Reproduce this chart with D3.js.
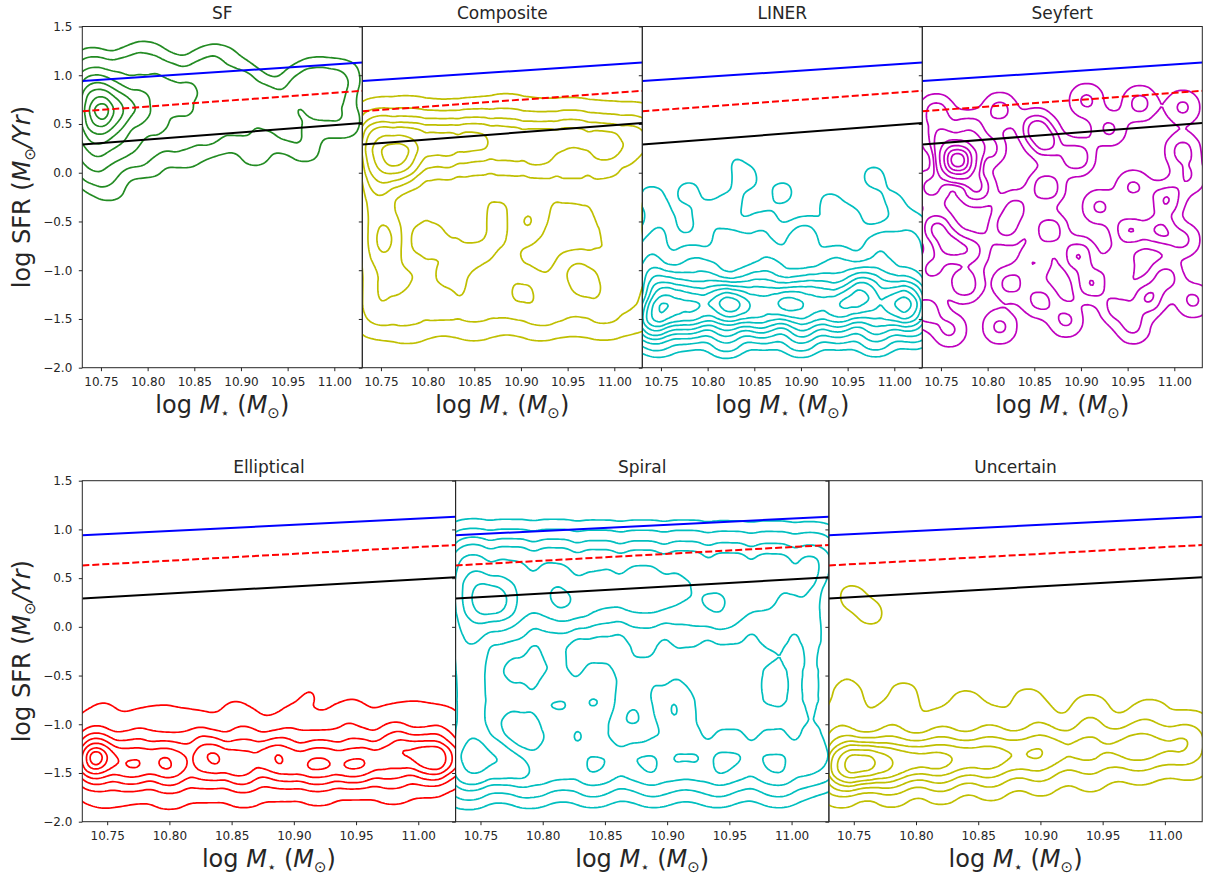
<!DOCTYPE html>
<html>
<head>
<meta charset="utf-8">
<script src="https://cdn.jsdelivr.net/npm/d3@7"></script>
<style>
  body { margin: 0; background: #fff; }
  svg text { font-family: 'DejaVu Sans', sans-serif; fill: #262626; }
</style>
</head>
<body>
<div id="chart"></div>
<script>
// axes
const massDomain = [10.73, 11.03];
const sfrDomain = [-2.0, 1.5];
const massTicks = [10.75, 10.8, 10.85, 10.9, 10.95, 11.0];
const sfrTicks = [-2.0, -1.5, -1.0, -0.5, 0.0, 0.5, 1.0, 1.5];

// reference relations (values at both mass ends)
const lineMass = [10.73, 11.03];
const blueLine = [0.94, 1.13];
const redLine = [0.63, 0.84];
const blackLine = [0.29, 0.51];

const panelNames = ['SF', 'Composite', 'LINER', 'Seyfert', 'Elliptical', 'Spiral', 'Uncertain'];

// galaxy samples per class: [log M*, log SFR, weight]
const sfPoints = [
  [10.745, 0.72, 2.0], [10.745, 0.57, 2.0], [10.765, 0.65, 1.6], [10.74, 0.42, 1.3], [10.765, 0.45, 1.0],
  [10.785, 0.7, 1.1], [10.8, 0.55, 0.9], [10.735, 0.88, 1.1], [10.76, 0.9, 0.9], [10.74, 0.22, 0.9],
  [10.765, 0.2, 0.7], [10.74, 0.02, 0.55], [10.76, -0.13, 0.35], [10.785, 0.3, 0.6], [10.8, 0.85, 0.8],
  [10.78, 1.08, 0.5], [10.82, 1.0, 0.6], [10.82, 0.4, 0.6], [10.83, 0.72, 0.8], [10.85, 0.55, 0.6],
  [10.85, 0.88, 0.7], [10.86, 1.1, 0.4], [10.87, 0.35, 0.45], [10.88, 0.72, 0.65], [10.9, 0.95, 0.5],
  [10.9, 0.5, 0.5], [10.915, 0.22, 0.35], [10.92, 0.78, 0.55], [10.935, 0.62, 0.65], [10.95, 0.42, 0.45],
  [10.96, 0.88, 0.5], [10.98, 1.0, 0.45], [10.98, 0.62, 0.45], [11.0, 0.82, 0.45], [11.01, 1.0, 0.35],
  [11.01, 0.52, 0.4], [10.8, 0.1, 0.35], [10.84, 0.2, 0.35], [10.97, 0.25, 0.3], [10.74, 1.1, 0.5],
  [10.8, 1.18, 0.35], [10.88, 1.15, 0.3]
];
const compositePoints = [
  [10.745, 0.55, 0.7], [10.78, 0.57, 0.65], [10.815, 0.53, 0.65], [10.85, 0.56, 0.6], [10.885, 0.6, 0.6],
  [10.92, 0.55, 0.6], [10.955, 0.57, 0.55], [10.99, 0.54, 0.5], [11.025, 0.55, 0.4],
  [10.745, 0.35, 2.0], [10.78, 0.35, 1.9], [10.815, 0.33, 1.8], [10.85, 0.36, 1.75], [10.885, 0.35, 1.7],
  [10.92, 0.32, 1.6], [10.955, 0.36, 1.55], [10.99, 0.33, 1.45], [11.025, 0.35, 1.2],
  [10.745, 0.12, 1.9], [10.772, 0.14, 3.0], [10.815, 0.1, 1.3], [10.85, 0.14, 1.1], [10.885, 0.08, 1.15],
  [10.92, 0.12, 0.95], [10.955, 0.05, 0.9], [10.99, 0.12, 0.95], [11.025, 0.1, 0.8],
  [10.745, -0.15, 1.5], [10.78, -0.12, 0.9], [10.815, -0.2, 0.8], [10.85, -0.15, 0.85], [10.885, -0.22, 0.65],
  [10.92, -0.1, 0.75], [10.955, -0.18, 0.7], [10.99, -0.12, 0.8], [11.025, -0.2, 0.7],
  [10.745, -0.45, 1.2], [10.78, -0.42, 0.75], [10.815, -0.5, 0.6], [10.85, -0.49, 0.85], [10.903, -0.52, 1.0],
  [10.92, -0.4, 0.5], [10.955, -0.48, 0.4], [10.99, -0.42, 0.65], [11.025, -0.5, 0.65],
  [10.745, -0.75, 0.95], [10.762, -0.69, 1.0], [10.815, -0.8, 0.5], [10.85, -0.72, 0.4], [10.885, -0.78, 0.5],
  [10.92, -0.75, 0.35], [10.955, -0.8, 0.35], [10.99, -0.72, 0.6], [11.025, -0.78, 0.6],
  [10.745, -1.0, 0.8], [10.78, -0.95, 0.7], [10.815, -1.02, 0.4], [10.85, -0.98, 0.35], [10.885, -1.0, 0.55],
  [10.92, -1.05, 0.45], [10.955, -0.98, 0.7], [10.99, -1.02, 0.5], [11.025, -1.0, 0.55],
  [10.745, -1.25, 0.8], [10.776, -1.17, 1.0], [10.815, -1.28, 0.55], [10.86, -1.2, 0.95], [10.9, -1.22, 0.95],
  [10.93, -1.3, 0.55], [10.966, -1.14, 1.1], [10.99, -1.28, 0.6], [11.025, -1.22, 0.5],
  [10.745, -1.48, 0.75], [10.78, -1.52, 0.75], [10.815, -1.45, 0.6], [10.85, -1.5, 0.7], [10.885, -1.44, 0.6],
  [10.92, -1.5, 0.7], [10.955, -1.46, 0.6], [10.99, -1.5, 0.65], [11.025, -1.46, 0.45]
];
const linerPoints = [
  [10.74, -1.45, 2.5], [10.76, -1.43, 2.8], [10.79, -1.42, 2.5], [10.82, -1.4, 2.6], [10.85, -1.42, 2.5],
  [10.88, -1.38, 2.6], [10.91, -1.42, 2.4], [10.94, -1.4, 2.4], [10.97, -1.38, 2.5], [11.0, -1.42, 2.2],
  [11.02, -1.4, 1.8], [10.75, -1.25, 2.6], [10.78, -1.28, 2.2], [10.81, -1.25, 2.2], [10.83, -1.32, 2.6],
  [10.86, -1.22, 2.0], [10.89, -1.3, 2.2], [10.92, -1.24, 2.0], [10.95, -1.28, 2.0], [10.97, -1.19, 2.4],
  [11.0, -1.25, 1.9], [11.02, -1.28, 1.6], [10.74, -1.05, 1.4], [10.77, -1.1, 1.2], [10.8, -1.02, 1.2],
  [10.84, -1.08, 1.2], [10.87, -1.0, 1.0], [10.9, -1.1, 1.2], [10.93, -1.02, 1.0], [10.96, -1.05, 1.1],
  [10.99, -1.0, 1.0], [11.02, -1.08, 0.9], [10.74, -0.8, 0.8], [10.78, -0.85, 0.7], [10.82, -0.75, 0.7],
  [10.86, -0.8, 0.6], [10.9, -0.75, 0.7], [10.94, -0.85, 0.6], [10.98, -0.78, 0.65], [11.02, -0.8, 0.6],
  [10.75, -0.55, 0.45], [10.8, -0.5, 0.4], [10.832, -0.73, 0.4], [10.86, -0.55, 0.4], [10.905, -0.62, 0.45],
  [10.95, -0.5, 0.4], [10.994, -0.68, 0.4], [11.02, -0.55, 0.35], [10.74, -0.25, 0.3], [10.78, -0.2, 0.28],
  [10.823, -0.34, 0.3], [10.84, -0.05, 0.3], [10.88, -0.2, 0.28], [10.93, -0.3, 0.25], [10.978, -0.04, 0.28],
  [11.0, -0.3, 0.25], [10.826, 0.18, 0.15], [10.74, -1.6, 1.5], [10.78, -1.58, 1.4], [10.82, -1.6, 1.4],
  [10.86, -1.58, 1.4], [10.9, -1.6, 1.4], [10.94, -1.58, 1.4], [10.98, -1.6, 1.3], [11.02, -1.58, 1.2],
  [10.75, -1.72, 0.4], [10.82, -1.74, 0.4], [10.9, -1.72, 0.4], [10.98, -1.72, 0.35]
];
const seyfertPoints = [
  [10.768, 0.127, 8], [10.75, 0.35, 1.3], [10.78, 0.45, 1.2], [10.813, 0.64, 1], [10.745, 0.62, 1.1],
  [10.852, 0.46, 1.4], [10.863, 0.3, 1.3], [10.895, 0.16, 1.3], [10.906, 0.74, 0.9], [10.963, 0.71, 1],
  [11.009, 0.67, 0.9], [10.93, 0.45, 0.9], [10.8, 0.25, 1.1], [10.788, -0.15, 1.4], [10.863, -0.15, 1.3],
  [10.991, -0.28, 1.3], [10.956, -0.15, 0.9], [11.009, 0.23, 1], [10.92, -0.35, 0.9], [10.83, -0.35, 0.9],
  [10.745, -0.56, 1.3], [10.759, -0.76, 1.3], [10.783, -0.8, 1], [10.82, -0.56, 1], [10.866, -0.59, 1.2],
  [10.897, -0.85, 1.3], [10.952, -0.59, 1.3], [10.984, -0.59, 1.3], [11.009, -0.69, 0.9], [10.775, -1.14, 1.3],
  [10.734, -1.41, 1.2], [10.824, -1.14, 1], [10.856, -1.31, 1], [10.911, -1.14, 1.3], [10.938, -1.38, 1],
  [10.972, -1.29, 1.3], [10.991, -1.07, 1], [11.02, -1.31, 0.9], [10.813, -1.58, 0.9], [10.884, -1.51, 0.9],
  [10.956, -1.58, 0.9], [10.759, -1.61, 0.9], [10.74, -0.15, 1], [10.74, -1.0, 0.9], [10.85, -0.92, 0.8],
  [10.94, -0.95, 0.8], [11.015, -0.05, 0.8]
];
const ellipticalPoints = [
  [10.735, -1.38, 2.5], [10.744, -1.33, 2.8], [10.765, -1.4, 2.4], [10.785, -1.38, 2.4], [10.805, -1.4, 2.4],
  [10.833, -1.35, 2.9], [10.855, -1.4, 2.4], [10.882, -1.35, 2.8], [10.905, -1.4, 2.4], [10.925, -1.38, 2.4],
  [10.945, -1.4, 2.4], [10.965, -1.36, 2.4], [10.99, -1.3, 2.8], [11.01, -1.35, 2.5], [11.025, -1.35, 2.3],
  [10.74, -1.22, 1.4], [10.77, -1.2, 1.4], [10.8, -1.22, 1.4], [10.83, -1.2, 1.4], [10.86, -1.2, 1.4],
  [10.89, -1.2, 1.4], [10.92, -1.18, 1.4], [10.95, -1.16, 1.4], [10.98, -1.16, 1.4], [11.01, -1.18, 1.4],
  [10.74, -1.55, 1.5], [10.77, -1.56, 1.5], [10.8, -1.56, 1.5], [10.83, -1.55, 1.5], [10.86, -1.55, 1.5],
  [10.89, -1.54, 1.5], [10.92, -1.53, 1.5], [10.95, -1.52, 1.5], [10.98, -1.52, 1.5], [11.01, -1.5, 1.5],
  [10.74, -1.05, 0.6], [10.78, -1.02, 0.6], [10.82, -1.05, 0.6], [10.86, -1.03, 0.6], [10.9, -1.0, 0.6],
  [10.94, -1.0, 0.6], [10.98, -0.98, 0.6], [11.02, -1.0, 0.6], [10.75, -0.86, 0.22], [10.8, -0.86, 0.22],
  [10.85, -0.85, 0.22], [10.913, -0.68, 0.25], [10.95, -0.84, 0.22], [11.0, -0.82, 0.22], [10.75, -1.72, 0.3],
  [10.8, -1.73, 0.3], [10.86, -1.7, 0.3], [10.92, -1.68, 0.3], [10.98, -1.66, 0.3]
];
const spiralPoints = [
  [10.74, 0.85, 0.9], [10.775, 0.85, 0.85], [10.81, 0.85, 0.85], [10.845, 0.85, 0.8], [10.88, 0.85, 0.8],
  [10.915, 0.85, 0.8], [10.95, 0.85, 0.75], [10.985, 0.85, 0.75], [11.02, 0.85, 0.7],
  [10.74, 0.6, 1.8], [10.775, 0.6, 1.6], [10.81, 0.6, 1.5], [10.845, 0.6, 1.45], [10.88, 0.6, 1.4],
  [10.915, 0.6, 1.35], [10.95, 0.6, 1.3], [10.985, 0.6, 1.25], [11.02, 0.6, 1.2],
  [10.74, 0.3, 2.0], [10.765, 0.27, 2.8], [10.8, 0.3, 1.7], [10.825, 0.26, 1.9], [10.855, 0.3, 1.5],
  [10.883, 0.31, 1.8], [10.91, 0.3, 1.4], [10.941, 0.25, 1.7], [10.975, 0.3, 1.2], [11.01, 0.3, 1.1],
  [10.74, 0.0, 1.6], [10.775, 0.0, 1.2], [10.81, 0.0, 1.0], [10.845, 0.0, 0.9], [10.88, 0.0, 0.95],
  [10.915, 0.0, 0.9], [10.95, 0.0, 0.85], [10.985, 0.0, 0.9], [11.02, 0.0, 0.9],
  [10.74, -0.3, 1.4], [10.775, -0.3, 0.8], [10.81, -0.35, 0.95], [10.845, -0.4, 0.95], [10.88, -0.3, 0.8],
  [10.915, -0.3, 0.75], [10.95, -0.3, 0.7], [10.985, -0.3, 0.75], [11.02, -0.3, 0.8],
  [10.74, -0.6, 1.3], [10.775, -0.65, 0.85], [10.81, -0.7, 0.9], [10.845, -0.7, 0.9], [10.88, -0.6, 0.7],
  [10.915, -0.6, 0.7], [10.95, -0.6, 0.65], [10.985, -0.6, 0.9], [11.02, -0.6, 0.85],
  [10.74, -0.9, 1.3], [10.775, -0.9, 0.75], [10.81, -0.9, 0.85], [10.845, -0.9, 0.8], [10.897, -0.85, 0.85],
  [10.915, -0.9, 0.7], [10.95, -0.9, 0.7], [10.985, -0.9, 0.75], [11.02, -0.9, 0.8],
  [10.74, -1.2, 1.3], [10.765, -1.3, 0.9], [10.81, -1.2, 0.75], [10.845, -1.2, 0.7], [10.88, -1.2, 0.75],
  [10.915, -1.2, 0.8], [10.95, -1.2, 0.8], [10.985, -1.2, 0.75], [11.02, -1.2, 0.8],
  [10.74, -1.45, 1.4], [10.775, -1.45, 1.2], [10.81, -1.45, 1.1], [10.845, -1.45, 1.1], [10.88, -1.45, 1.1],
  [10.915, -1.45, 1.1], [10.95, -1.45, 1.1], [10.985, -1.45, 1.1], [11.02, -1.45, 1.0],
  [10.74, -1.65, 0.6], [10.79, -1.65, 0.55], [10.84, -1.65, 0.5], [10.89, -1.65, 0.5], [10.94, -1.65, 0.5],
  [10.99, -1.65, 0.5]
];
const uncertainPoints = [
  [10.74, -1.4, 3], [10.755, -1.4, 3.5], [10.77, -1.38, 3], [10.79, -1.37, 2.5], [10.81, -1.36, 2.3],
  [10.83, -1.35, 2.1], [10.85, -1.33, 1.9], [10.87, -1.32, 1.7], [10.89, -1.3, 1.6], [10.91, -1.28, 1.5],
  [10.935, -1.26, 1.45], [10.96, -1.25, 1.3], [10.98, -1.25, 1.2], [11.0, -1.24, 1.15], [11.02, -1.22, 1.0],
  [10.74, -1.6, 1.2], [10.78, -1.6, 1.1], [10.82, -1.58, 1.0], [10.86, -1.55, 0.9], [10.9, -1.52, 0.75],
  [10.94, -1.5, 0.6], [10.98, -1.45, 0.45], [11.02, -1.42, 0.35], [10.74, -1.1, 1.0], [10.78, -1.05, 0.9],
  [10.82, -1.08, 0.8], [10.86, -1.05, 0.75], [10.9, -1.05, 0.7], [10.94, -1.02, 0.65], [10.98, -1.05, 0.6],
  [11.02, -1.05, 0.55], [10.745, -0.75, 0.45], [10.79, -0.72, 0.4], [10.84, -0.8, 0.4], [10.89, -0.78, 0.4],
  [10.94, -0.85, 0.35], [10.99, -0.9, 0.35], [10.747, 0.32, 0.3], [10.765, 0.13, 0.3], [10.744, -0.36, 0.2]
];

const render = () => {
  const width = 1208;
  const height = 878;

  const svg = d3
    .select('#chart')
    .append('svg')
    .attr('width', width)
    .attr('height', height);

  const topW = 280;
  const botW = 373.3;
  const panels = [
    { pts: sfPoints, color: '#228b22', x0: 82.3, y0: 26.5, w: topW, h: 341.2, bw: 12,
      levels: [0.04, 0.1, 0.2, 0.32, 0.46, 0.62, 0.8, 0.93] },
    { pts: compositePoints, color: '#bfbf00', x0: 82.3 + topW, y0: 26.5, w: topW, h: 341.2, bw: 13,
      levels: [0.05, 0.17, 0.29, 0.4, 0.52, 0.7, 0.88] },
    { pts: linerPoints, color: '#00bfbf', x0: 82.3 + 2 * topW, y0: 26.5, w: topW, h: 341.2, bw: 11,
      levels: [0.035, 0.09, 0.18, 0.28, 0.38, 0.5, 0.62, 0.76, 0.9] },
    { pts: seyfertPoints, color: '#bf00bf', x0: 82.3 + 3 * topW, y0: 26.5, w: topW, h: 341.2, bw: 10,
      levels: [0.035, 0.1, 0.16, 0.3, 0.5, 0.7, 0.88] },
    { pts: ellipticalPoints, color: '#ff0000', x0: 82.3, y0: 480.7, w: botW, h: 341, bw: 12,
      levels: [0.04, 0.2, 0.36, 0.52, 0.68, 0.84, 0.94] },
    { pts: spiralPoints, color: '#00bfbf', x0: 82.3 + botW, y0: 480.7, w: botW, h: 341, bw: 16,
      levels: [0.08, 0.18, 0.3, 0.4, 0.55, 0.72, 0.88] },
    { pts: uncertainPoints, color: '#bfbf00', x0: 82.3 + 2 * botW, y0: 480.7, w: botW, h: 341, bw: 13,
      levels: [0.04, 0.15, 0.27, 0.4, 0.52, 0.7, 0.88] }
  ];

  const path = d3.geoPath();

  panels.forEach((p, i) => {
    const first = i === 0 || i === 4;
    const g = svg.append('g').attr('transform', `translate(${p.x0},${p.y0})`);

    const xScale = d3.scaleLinear().domain(massDomain).range([0, p.w]);
    const yScale = d3.scaleLinear().domain(sfrDomain).range([p.h, 0]);

    g.append('clipPath')
      .attr('id', `clip${i}`)
      .append('rect')
      .attr('width', p.w)
      .attr('height', p.h);

    // KDE contours
    const density = d3
      .contourDensity()
      .x((d) => xScale(d[0]))
      .y((d) => yScale(d[1]))
      .weight((d) => d[2])
      .size([p.w, p.h])
      .cellSize(2)
      .bandwidth(p.bw);
    const contour = density.contours(p.pts);

    g.append('g')
      .attr('clip-path', `url(#clip${i})`)
      .selectAll('path')
      .data(p.levels)
      .join('path')
      .attr('d', (lv) => path(contour(lv * contour.max)))
      .attr('fill', 'none')
      .attr('stroke', p.color)
      .attr('stroke-width', 1.7)
      .attr('stroke-linejoin', 'round');

    // reference lines
    const lines = [
      { vals: blueLine, color: '#0000ff', dash: null },
      { vals: redLine, color: '#ff0000', dash: '7,3' },
      { vals: blackLine, color: '#000000', dash: null }
    ];
    const lineGen = d3
      .line()
      .x((d) => xScale(d[0]))
      .y((d) => yScale(d[1]));
    g.append('g')
      .attr('clip-path', `url(#clip${i})`)
      .selectAll('path')
      .data(lines)
      .join('path')
      .attr('d', (l) => lineGen(lineMass.map((m, k) => [m, l.vals[k]])))
      .attr('fill', 'none')
      .attr('stroke', (l) => l.color)
      .attr('stroke-width', 2)
      .attr('stroke-dasharray', (l) => l.dash);

    // axes
    const yAxis = d3
      .axisLeft(yScale)
      .tickValues(sfrTicks)
      .tickSize(3.5)
      .tickPadding(6.5)
      .tickFormat(first ? d3.format('.1f') : () => '');
    const xAxis = d3
      .axisBottom(xScale)
      .tickValues(massTicks)
      .tickSize(3.5)
      .tickPadding(6.5)
      .tickFormat(d3.format('.2f'));

    const yg = g.append('g').call(yAxis);
    const xg = g.append('g').attr('transform', `translate(0,${p.h})`).call(xAxis);
    [yg, xg].forEach((a) => {
      a.select('.domain').remove();
      a.selectAll('.tick line').attr('stroke', '#262626');
      a.selectAll('text').style('font-size', '12px').attr('fill', '#262626');
    });

    g.append('rect')
      .attr('width', p.w)
      .attr('height', p.h)
      .attr('fill', 'none')
      .attr('stroke', '#262626')
      .attr('stroke-width', 1);

    // title
    g.append('text')
      .attr('x', p.w / 2)
      .attr('y', -8)
      .attr('text-anchor', 'middle')
      .style('font-size', '17px')
      .text(panelNames[i]);

    // x label: log M* (Msun)
    const xl = g
      .append('text')
      .attr('x', p.w / 2)
      .attr('y', p.h + 45)
      .attr('text-anchor', 'middle')
      .style('font-size', '24px');
    xl.append('tspan').text('log ');
    xl.append('tspan').style('font-style', 'italic').text('M');
    xl.append('tspan').attr('dy', 5).style('font-size', '15px').text('\u22c6');
    xl.append('tspan').attr('dy', -5).text(' (');
    xl.append('tspan').style('font-style', 'italic').text('M');
    xl.append('tspan').attr('dy', 5).style('font-size', '15px').text('\u2299');
    xl.append('tspan').attr('dy', -5).text(')');

    // y label: log SFR (Msun/Yr)
    if (first) {
      const yl = svg
        .append('text')
        .attr('transform', `translate(30,${p.y0 + p.h / 2}) rotate(-90)`)
        .attr('text-anchor', 'middle')
        .style('font-size', '24px');
      yl.append('tspan').text('log SFR (');
      yl.append('tspan').style('font-style', 'italic').text('M');
      yl.append('tspan').attr('dy', 5).style('font-size', '15px').text('\u2299');
      yl.append('tspan').attr('dy', -5).style('font-style', 'italic').text('/Yr');
      yl.append('tspan').text(')');
    }
  });
};

render();
</script>
</body>
</html>
